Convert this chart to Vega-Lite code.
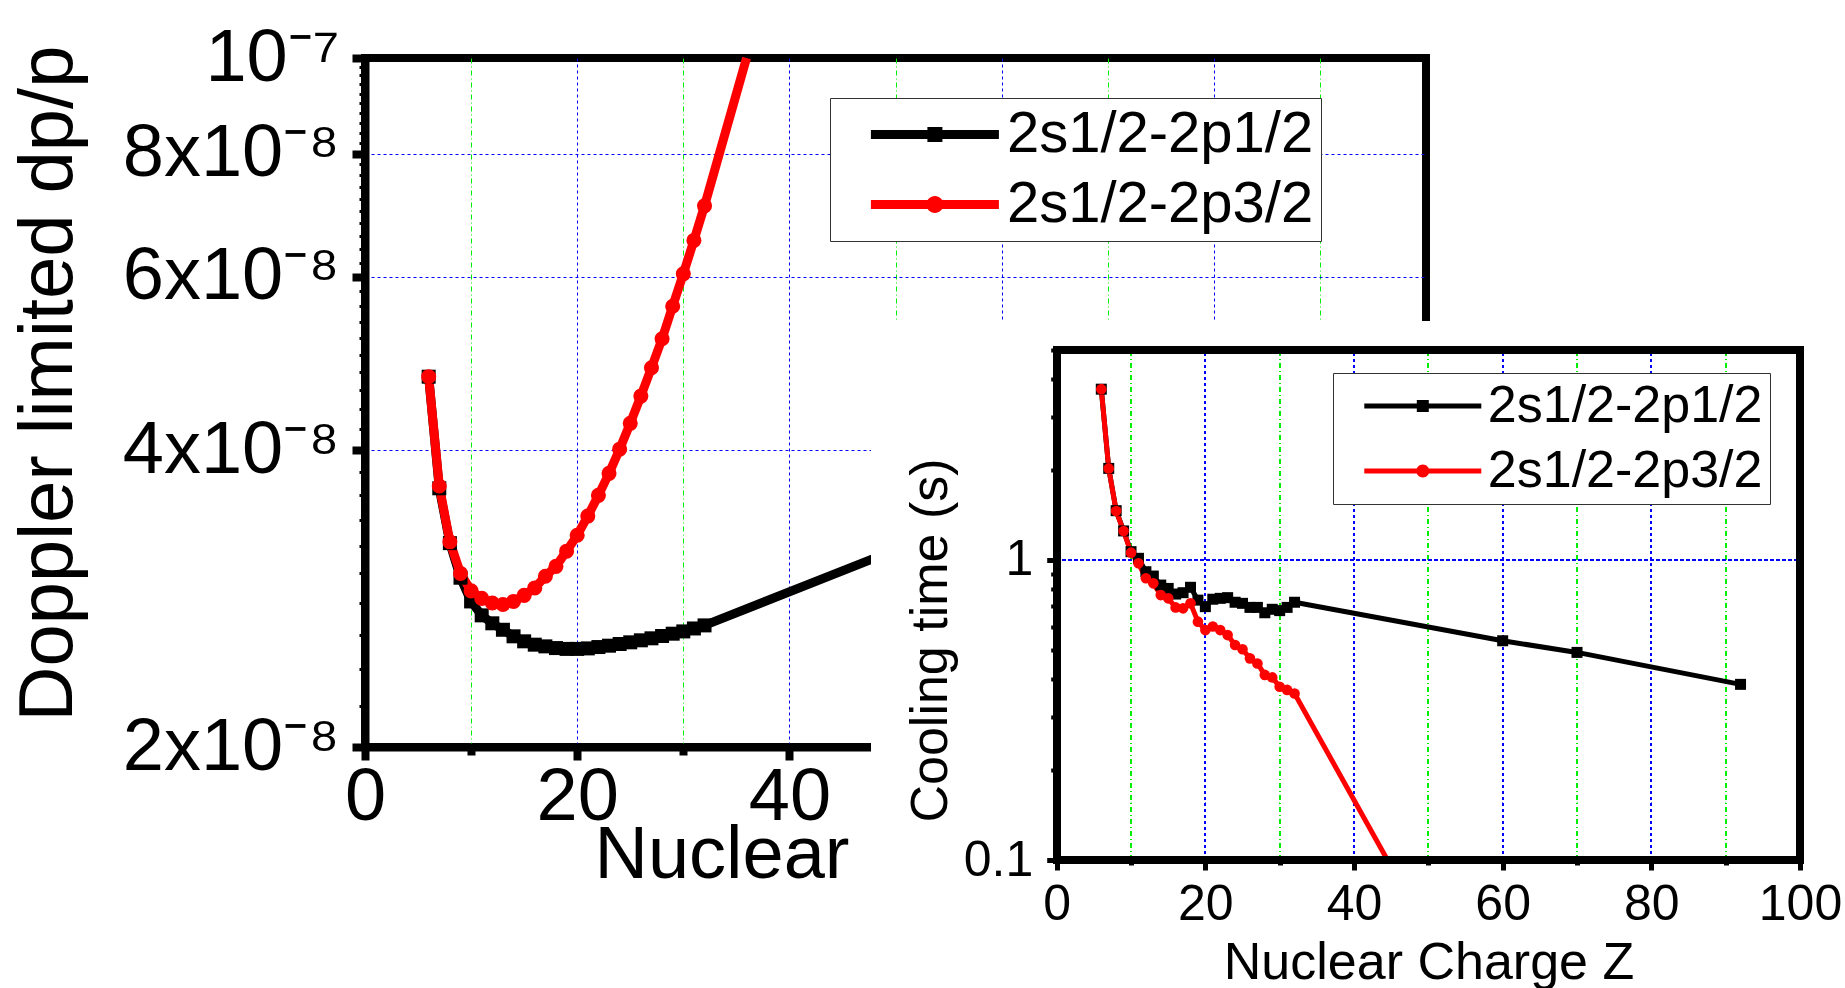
{
  "$schema": "https://vega.github.io/schema/vega-lite/v6.json",
  "width": 1061,
  "height": 689,
  "autosize": {"type": "none"},
  "padding": {"left": 365, "top": 58, "right": 419, "bottom": 241},
  "background": "white",
  "config": {
    "view": {"stroke": "black", "strokeWidth": 8},
    "font": "Liberation Sans",
    "axis": {"labelFont": "Liberation Sans", "titleFont": "Liberation Sans", "labelColor": "black", "titleColor": "black", "titleFontWeight": "normal", "domainColor": "black", "tickColor": "black", "gridWidth": 1, "labelFlush": false, "labelOverlap": false, "labelBound": false, "labelLimit": 500},
    "legend": {"labelFont": "Liberation Sans", "labelColor": "black", "labelLimit": 1000}
  },
  "datasets": {
    "main": [
      {"Z": 6, "dp": 4.75e-8, "series": "2s1/2-2p1/2"},
      {"Z": 7, "dp": 3.66e-8, "series": "2s1/2-2p1/2"},
      {"Z": 8, "dp": 3.22e-8, "series": "2s1/2-2p1/2"},
      {"Z": 9, "dp": 2.97e-8, "series": "2s1/2-2p1/2"},
      {"Z": 10, "dp": 2.81e-8, "series": "2s1/2-2p1/2"},
      {"Z": 11, "dp": 2.72e-8, "series": "2s1/2-2p1/2"},
      {"Z": 12, "dp": 2.67e-8, "series": "2s1/2-2p1/2"},
      {"Z": 13, "dp": 2.63e-8, "series": "2s1/2-2p1/2"},
      {"Z": 14, "dp": 2.59e-8, "series": "2s1/2-2p1/2"},
      {"Z": 15, "dp": 2.56e-8, "series": "2s1/2-2p1/2"},
      {"Z": 16, "dp": 2.54e-8, "series": "2s1/2-2p1/2"},
      {"Z": 17, "dp": 2.53e-8, "series": "2s1/2-2p1/2"},
      {"Z": 18, "dp": 2.52e-8, "series": "2s1/2-2p1/2"},
      {"Z": 19, "dp": 2.515e-8, "series": "2s1/2-2p1/2"},
      {"Z": 20, "dp": 2.515e-8, "series": "2s1/2-2p1/2"},
      {"Z": 21, "dp": 2.518e-8, "series": "2s1/2-2p1/2"},
      {"Z": 22, "dp": 2.526e-8, "series": "2s1/2-2p1/2"},
      {"Z": 23, "dp": 2.534e-8, "series": "2s1/2-2p1/2"},
      {"Z": 24, "dp": 2.544e-8, "series": "2s1/2-2p1/2"},
      {"Z": 25, "dp": 2.554e-8, "series": "2s1/2-2p1/2"},
      {"Z": 26, "dp": 2.566e-8, "series": "2s1/2-2p1/2"},
      {"Z": 27, "dp": 2.578e-8, "series": "2s1/2-2p1/2"},
      {"Z": 28, "dp": 2.592e-8, "series": "2s1/2-2p1/2"},
      {"Z": 29, "dp": 2.606e-8, "series": "2s1/2-2p1/2"},
      {"Z": 30, "dp": 2.62e-8, "series": "2s1/2-2p1/2"},
      {"Z": 31, "dp": 2.638e-8, "series": "2s1/2-2p1/2"},
      {"Z": 32, "dp": 2.657e-8, "series": "2s1/2-2p1/2"},
      {"Z": 50, "dp": 3.17e-8, "series": "2s1/2-2p1/2", "end": true},
      {"Z": 6, "dp": 4.75e-8, "series": "2s1/2-2p3/2"},
      {"Z": 7, "dp": 3.68e-8, "series": "2s1/2-2p3/2"},
      {"Z": 8, "dp": 3.23e-8, "series": "2s1/2-2p3/2"},
      {"Z": 9, "dp": 3.0e-8, "series": "2s1/2-2p3/2"},
      {"Z": 10, "dp": 2.88e-8, "series": "2s1/2-2p3/2"},
      {"Z": 11, "dp": 2.83e-8, "series": "2s1/2-2p3/2"},
      {"Z": 12, "dp": 2.8e-8, "series": "2s1/2-2p3/2"},
      {"Z": 13, "dp": 2.79e-8, "series": "2s1/2-2p3/2"},
      {"Z": 14, "dp": 2.81e-8, "series": "2s1/2-2p3/2"},
      {"Z": 15, "dp": 2.85e-8, "series": "2s1/2-2p3/2"},
      {"Z": 16, "dp": 2.9e-8, "series": "2s1/2-2p3/2"},
      {"Z": 17, "dp": 2.98e-8, "series": "2s1/2-2p3/2"},
      {"Z": 18, "dp": 3.05e-8, "series": "2s1/2-2p3/2"},
      {"Z": 19, "dp": 3.16e-8, "series": "2s1/2-2p3/2"},
      {"Z": 20, "dp": 3.28e-8, "series": "2s1/2-2p3/2"},
      {"Z": 21, "dp": 3.43e-8, "series": "2s1/2-2p3/2"},
      {"Z": 22, "dp": 3.6e-8, "series": "2s1/2-2p3/2"},
      {"Z": 23, "dp": 3.79e-8, "series": "2s1/2-2p3/2"},
      {"Z": 24, "dp": 4.01e-8, "series": "2s1/2-2p3/2"},
      {"Z": 25, "dp": 4.26e-8, "series": "2s1/2-2p3/2"},
      {"Z": 26, "dp": 4.54e-8, "series": "2s1/2-2p3/2"},
      {"Z": 27, "dp": 4.85e-8, "series": "2s1/2-2p3/2"},
      {"Z": 28, "dp": 5.19e-8, "series": "2s1/2-2p3/2"},
      {"Z": 29, "dp": 5.6e-8, "series": "2s1/2-2p3/2"},
      {"Z": 30, "dp": 6.04e-8, "series": "2s1/2-2p3/2"},
      {"Z": 31, "dp": 6.53e-8, "series": "2s1/2-2p3/2"},
      {"Z": 32, "dp": 7.08e-8, "series": "2s1/2-2p3/2"},
      {"Z": 35.96, "dp": 1e-7, "series": "2s1/2-2p3/2", "end": true}
    ],
    "inset": [
      {"Z": 6, "t": 3.71, "series": "2s1/2-2p1/2"},
      {"Z": 7, "t": 2.02, "series": "2s1/2-2p1/2"},
      {"Z": 8, "t": 1.46, "series": "2s1/2-2p1/2"},
      {"Z": 9, "t": 1.25, "series": "2s1/2-2p1/2"},
      {"Z": 10, "t": 1.066, "series": "2s1/2-2p1/2"},
      {"Z": 11, "t": 1.013, "series": "2s1/2-2p1/2"},
      {"Z": 12, "t": 0.914, "series": "2s1/2-2p1/2"},
      {"Z": 13, "t": 0.884, "series": "2s1/2-2p1/2"},
      {"Z": 14, "t": 0.825, "series": "2s1/2-2p1/2"},
      {"Z": 15, "t": 0.804, "series": "2s1/2-2p1/2"},
      {"Z": 16, "t": 0.77, "series": "2s1/2-2p1/2"},
      {"Z": 17, "t": 0.778, "series": "2s1/2-2p1/2"},
      {"Z": 18, "t": 0.811, "series": "2s1/2-2p1/2"},
      {"Z": 19, "t": 0.735, "series": "2s1/2-2p1/2"},
      {"Z": 20, "t": 0.699, "series": "2s1/2-2p1/2"},
      {"Z": 21, "t": 0.74, "series": "2s1/2-2p1/2"},
      {"Z": 22, "t": 0.745, "series": "2s1/2-2p1/2"},
      {"Z": 23, "t": 0.749, "series": "2s1/2-2p1/2"},
      {"Z": 24, "t": 0.723, "series": "2s1/2-2p1/2"},
      {"Z": 25, "t": 0.717, "series": "2s1/2-2p1/2"},
      {"Z": 26, "t": 0.695, "series": "2s1/2-2p1/2"},
      {"Z": 27, "t": 0.695, "series": "2s1/2-2p1/2"},
      {"Z": 28, "t": 0.667, "series": "2s1/2-2p1/2"},
      {"Z": 29, "t": 0.685, "series": "2s1/2-2p1/2"},
      {"Z": 30, "t": 0.678, "series": "2s1/2-2p1/2"},
      {"Z": 31, "t": 0.695, "series": "2s1/2-2p1/2"},
      {"Z": 32, "t": 0.723, "series": "2s1/2-2p1/2"},
      {"Z": 60, "t": 0.538, "series": "2s1/2-2p1/2"},
      {"Z": 70, "t": 0.492, "series": "2s1/2-2p1/2"},
      {"Z": 92, "t": 0.385, "series": "2s1/2-2p1/2"},
      {"Z": 6, "t": 3.71, "series": "2s1/2-2p3/2"},
      {"Z": 7, "t": 2.02, "series": "2s1/2-2p3/2"},
      {"Z": 8, "t": 1.457, "series": "2s1/2-2p3/2"},
      {"Z": 9, "t": 1.249, "series": "2s1/2-2p3/2"},
      {"Z": 10, "t": 1.058, "series": "2s1/2-2p3/2"},
      {"Z": 11, "t": 0.975, "series": "2s1/2-2p3/2"},
      {"Z": 12, "t": 0.869, "series": "2s1/2-2p3/2"},
      {"Z": 13, "t": 0.836, "series": "2s1/2-2p3/2"},
      {"Z": 14, "t": 0.764, "series": "2s1/2-2p3/2"},
      {"Z": 15, "t": 0.745, "series": "2s1/2-2p3/2"},
      {"Z": 16, "t": 0.695, "series": "2s1/2-2p3/2"},
      {"Z": 17, "t": 0.69, "series": "2s1/2-2p3/2"},
      {"Z": 18, "t": 0.717, "series": "2s1/2-2p3/2"},
      {"Z": 19, "t": 0.623, "series": "2s1/2-2p3/2"},
      {"Z": 20, "t": 0.584, "series": "2s1/2-2p3/2"},
      {"Z": 21, "t": 0.6, "series": "2s1/2-2p3/2"},
      {"Z": 22, "t": 0.584, "series": "2s1/2-2p3/2"},
      {"Z": 23, "t": 0.562, "series": "2s1/2-2p3/2"},
      {"Z": 24, "t": 0.521, "series": "2s1/2-2p3/2"},
      {"Z": 25, "t": 0.504, "series": "2s1/2-2p3/2"},
      {"Z": 26, "t": 0.47, "series": "2s1/2-2p3/2"},
      {"Z": 27, "t": 0.452, "series": "2s1/2-2p3/2"},
      {"Z": 28, "t": 0.414, "series": "2s1/2-2p3/2"},
      {"Z": 29, "t": 0.406, "series": "2s1/2-2p3/2"},
      {"Z": 30, "t": 0.378, "series": "2s1/2-2p3/2"},
      {"Z": 31, "t": 0.369, "series": "2s1/2-2p3/2"},
      {"Z": 32, "t": 0.359, "series": "2s1/2-2p3/2"},
      {"Z": 44.5, "t": 0.1, "series": "2s1/2-2p3/2", "end": true}
    ]
  },
  "layer": [
    {
      "data": {"name": "main"},
      "encoding": {
        "x": {
          "field": "Z", "type": "quantitative",
          "scale": {"domain": [0, 100], "nice": false, "zero": false},
          "axis": {
            "orient": "bottom",
            "values": [0, 10, 20, 30, 40, 50, 60, 70, 80, 90, 100],
            "labelExpr": "datum.value % 20 === 0 && datum.value <= 40 ? datum.label : ''",
            "labelFontSize": 74, "labelPadding": 1,
            "tickSize": {"condition": {"test": "datum.value % 20 === 0", "value": 13}, "value": 8},
            "tickWidth": 8, "domainWidth": 8,
            "grid": true,
            "gridColor": {"condition": {"test": "datum.value % 20 === 0", "value": "#0000ff"}, "value": "#00ee00"},
            "gridDash": {"condition": {"test": "datum.value % 20 === 0", "value": [3, 3]}, "value": [5, 3, 1, 3]},
            "gridOpacity": {"condition": {"test": "datum.value === 0 || datum.value === 100", "value": 0}, "value": 1},
            "title": "Nuclear", "titleFontSize": 74,
            "titleX": 229, "titleY": 130, "titleBaseline": "alphabetic", "titleAlign": "left"
          }
        },
        "y": {
          "field": "dp", "type": "quantitative",
          "scale": {"type": "log", "domain": [2e-8, 1e-7], "nice": false},
          "axis": {
            "orient": "left",
            "values": [2e-8, 2.2e-8, 2.4e-8, 2.6e-8, 2.8e-8, 3e-8, 3.2e-8, 3.4e-8, 3.6e-8, 3.8e-8, 4e-8, 4.2e-8, 4.4e-8, 4.6e-8, 4.8e-8, 5e-8, 5.2e-8, 5.4e-8, 5.6e-8, 5.8e-8, 6e-8, 6.2e-8, 6.4e-8, 6.6e-8, 6.8e-8, 7e-8, 7.2e-8, 7.4e-8, 7.6e-8, 7.8e-8, 8e-8, 8.2e-8, 8.4e-8, 8.6e-8, 8.8e-8, 9e-8, 9.2e-8, 9.4e-8, 9.6e-8, 9.8e-8, 1e-7],
            "labelExpr": "round(datum.value*1e9) % 20 !== 0 ? '' : (round(datum.value*1e9) === 100 ? '10⁻⁷' : format(round(datum.value*1e9)/10, 'd') + 'x10⁻⁸')",
            "labelFontSize": 74, "labelPadding": 13,
            "tickSize": {"condition": {"test": "round(datum.value*1e9) % 20 === 0", "value": 13}, "value": 6},
            "tickWidth": {"condition": {"test": "round(datum.value*1e9) % 20 === 0", "value": 8}, "value": 3},
            "domainWidth": 8,
            "grid": true,
            "gridColor": "#0000ff",
            "gridDash": [3, 3],
            "gridOpacity": {"condition": {"test": "round(datum.value*1e9) % 20 === 0 && round(datum.value*1e9) !== 20 && round(datum.value*1e9) !== 100", "value": 1}, "value": 0},
            "title": "Doppler limited dp/p", "titleFontSize": 76,
            "titleX": -294, "titleY": 325, "titleAngle": 270, "titleBaseline": "alphabetic", "titleAlign": "center"
          }
        },
        "color": {
          "field": "series", "type": "nominal",
          "scale": {"domain": ["2s1/2-2p1/2", "2s1/2-2p3/2"], "range": ["black", "#ff0000"]},
          "legend": {
            "title": null, "orient": "none", "legendX": 465, "legendY": 40,
            "labelFontSize": 58, "symbolSize": 1600, "symbolOffset": 68.4, "labelOffset": 43,
            "padding": 7.5, "rowPadding": 12, "symbolStrokeWidth": 0,
            "strokeColor": "#333333", "fillColor": "white",
            "encode": {"symbols": {"update": {
              "shape": {"signal": "datum.value === '2s1/2-2p1/2' ? 'M-3.2,-0.225H3.2V0.225H-3.2ZM-0.375,-0.375H0.375V0.375H-0.375Z' : 'M-3.2,-0.225H3.2V0.225H-3.2ZM-0.425,0A0.425,0.425,0,1,1,0.425,0A0.425,0.425,0,1,1,-0.425,0Z'"},
              "fill": {"signal": "datum.value === '2s1/2-2p1/2' ? 'black' : '#ff0000'"},
              "stroke": {"value": "transparent"},
              "strokeWidth": {"value": 0},
              "opacity": {"value": 1}
            }}}
          }
        }
      },
      "layer": [
        {"mark": {"type": "line", "strokeWidth": 9, "strokeJoin": "round"}},
        {
          "transform": [{"filter": "!datum.end"}],
          "mark": {"type": "point", "filled": true, "opacity": 1},
          "encoding": {
            "shape": {"condition": {"test": "datum.series === '2s1/2-2p1/2'", "value": "square"}, "value": "circle"},
            "size": {"condition": {"test": "datum.series === '2s1/2-2p1/2'", "value": 196}, "value": 227}
          }
        }
      ]
    },
    {
      "data": {"name": "inset"},
      "encoding": {
        "x": {
          "field": "Z", "type": "quantitative",
          "scale": {"domain": [0, 100], "range": [691.7, 1435], "nice": false, "zero": false},
          "axis": {
            "orient": "bottom", "offset": 113, "zindex": 1,
            "values": [0, 10, 20, 30, 40, 50, 60, 70, 80, 90, 100],
            "labelExpr": "datum.value % 20 === 0 ? datum.label : ''",
            "labelFontSize": 50, "labelPadding": 9,
            "tickSize": {"condition": {"test": "datum.value % 20 === 0", "value": 10}, "value": 5},
            "tickWidth": 5, "domainWidth": 7,
            "grid": false,
            "title": "Nuclear Charge Z", "titleFontSize": 52,
            "titleX": 1063.5, "titleY": 118, "titleBaseline": "alphabetic", "titleAlign": "center"
          }
        },
        "y": {
          "field": "t", "type": "quantitative",
          "scale": {"type": "log", "domain": [0.1, 5], "range": [802, 292.3], "nice": false},
          "axis": {
            "orient": "left", "offset": -691.7, "zindex": 1,
            "values": [0.1, 0.2, 0.3, 0.4, 0.5, 0.6, 0.7, 0.8, 0.9, 1, 2, 3, 4, 5],
            "labelExpr": "datum.value === 0.1 ? '0.1' : (datum.value === 1 ? '1' : '')",
            "labelFontSize": 50, "labelPadding": 14,
            "tickSize": {"condition": {"test": "datum.value === 0.1 || datum.value === 1", "value": 10}, "value": 6},
            "tickWidth": {"condition": {"test": "datum.value === 0.1 || datum.value === 1", "value": 5}, "value": 4},
            "domainWidth": 7,
            "grid": false,
            "title": "Cooling time (s)", "titleFontSize": 52,
            "titleX": -110, "titleY": 582, "titleAngle": 270, "titleBaseline": "alphabetic", "titleAlign": "center"
          }
        },
        "color": {
          "field": "series", "type": "nominal",
          "scale": {"domain": ["2s1/2-2p1/2", "2s1/2-2p3/2"], "range": ["black", "#ff0000"]},
          "legend": {
            "title": null, "orient": "none", "legendX": 968, "legendY": 315, "zindex": 2,
            "labelFontSize": 52, "symbolSize": 1296, "symbolOffset": 56.8, "labelOffset": 39,
            "padding": 7, "rowPadding": 13, "symbolStrokeWidth": 0,
            "strokeColor": "#333333", "fillColor": "white",
            "encode": {"symbols": {"update": {
              "shape": {"signal": "datum.value === '2s1/2-2p1/2' ? 'M-3.25,-0.139H3.25V0.139H-3.25ZM-0.333,-0.333H0.333V0.333H-0.333Z' : 'M-3.25,-0.139H3.25V0.139H-3.25ZM-0.361,0A0.361,0.361,0,1,1,0.361,0A0.361,0.361,0,1,1,-0.361,0Z'"},
              "fill": {"signal": "datum.value === '2s1/2-2p1/2' ? 'black' : '#ff0000'"},
              "stroke": {"value": "transparent"},
              "strokeWidth": {"value": 0},
              "opacity": {"value": 1}
            }}}
          }
        }
      },
      "layer": [
        {
          "mark": {"type": "rect", "color": "white", "fill": "white"},
          "encoding": {
            "x": {"datum": -24.9, "type": "quantitative"},
            "x2": {"datum": 130},
            "y": {"datum": 6.23, "type": "quantitative"},
            "y2": {"datum": 0.02},
            "color": {"value": "white"}
          }
        },
        {
          "encoding": {
            "y": {"datum": 0.1, "type": "quantitative"},
            "y2": {"datum": 5},
            "color": {"value": "#00ee00"}
          },
          "layer": [
            {"mark": {"type": "rule", "strokeWidth": 1, "strokeDash": [5, 3, 1, 3]}, "encoding": {"x": {"datum": 10, "type": "quantitative"}}},
            {"mark": {"type": "rule", "strokeWidth": 1, "strokeDash": [5, 3, 1, 3]}, "encoding": {"x": {"datum": 30, "type": "quantitative"}}},
            {"mark": {"type": "rule", "strokeWidth": 1, "strokeDash": [5, 3, 1, 3]}, "encoding": {"x": {"datum": 50, "type": "quantitative"}}},
            {"mark": {"type": "rule", "strokeWidth": 1, "strokeDash": [5, 3, 1, 3]}, "encoding": {"x": {"datum": 70, "type": "quantitative"}}},
            {"mark": {"type": "rule", "strokeWidth": 1, "strokeDash": [5, 3, 1, 3]}, "encoding": {"x": {"datum": 90, "type": "quantitative"}}},
            {"mark": {"type": "rule", "strokeWidth": 1, "strokeDash": [3, 3]}, "encoding": {"x": {"datum": 20, "type": "quantitative"}, "color": {"value": "#0000ff"}}},
            {"mark": {"type": "rule", "strokeWidth": 1, "strokeDash": [3, 3]}, "encoding": {"x": {"datum": 40, "type": "quantitative"}, "color": {"value": "#0000ff"}}},
            {"mark": {"type": "rule", "strokeWidth": 1, "strokeDash": [3, 3]}, "encoding": {"x": {"datum": 60, "type": "quantitative"}, "color": {"value": "#0000ff"}}},
            {"mark": {"type": "rule", "strokeWidth": 1, "strokeDash": [3, 3]}, "encoding": {"x": {"datum": 80, "type": "quantitative"}, "color": {"value": "#0000ff"}}}
          ]
        },
        {
          "mark": {"type": "rule", "strokeWidth": 1, "strokeDash": [3, 3]},
          "encoding": {
            "y": {"datum": 1, "type": "quantitative"},
            "x": {"datum": 0, "type": "quantitative"},
            "x2": {"datum": 100},
            "color": {"value": "#0000ff"}
          }
        },
        {"mark": {"type": "line", "strokeWidth": 5, "strokeJoin": "round"}},
        {
          "transform": [{"filter": "!datum.end"}],
          "mark": {"type": "point", "filled": true, "opacity": 1},
          "encoding": {
            "shape": {"condition": {"test": "datum.series === '2s1/2-2p1/2'", "value": "square"}, "value": "circle"},
            "size": {"condition": {"test": "datum.series === '2s1/2-2p1/2'", "value": 121}, "value": 113}
          }
        },
        {
          "mark": {"type": "rect", "filled": false, "stroke": "black", "strokeWidth": 7},
          "encoding": {
            "x": {"datum": 0, "type": "quantitative"},
            "x2": {"datum": 100},
            "y": {"datum": 0.1, "type": "quantitative"},
            "y2": {"datum": 5},
            "color": {"value": "black"}
          }
        }
      ]
    }
  ],
  "resolve": {
    "scale": {"x": "independent", "y": "independent", "color": "independent"},
    "axis": {"x": "independent", "y": "independent"},
    "legend": {"color": "independent"}
  }
}
